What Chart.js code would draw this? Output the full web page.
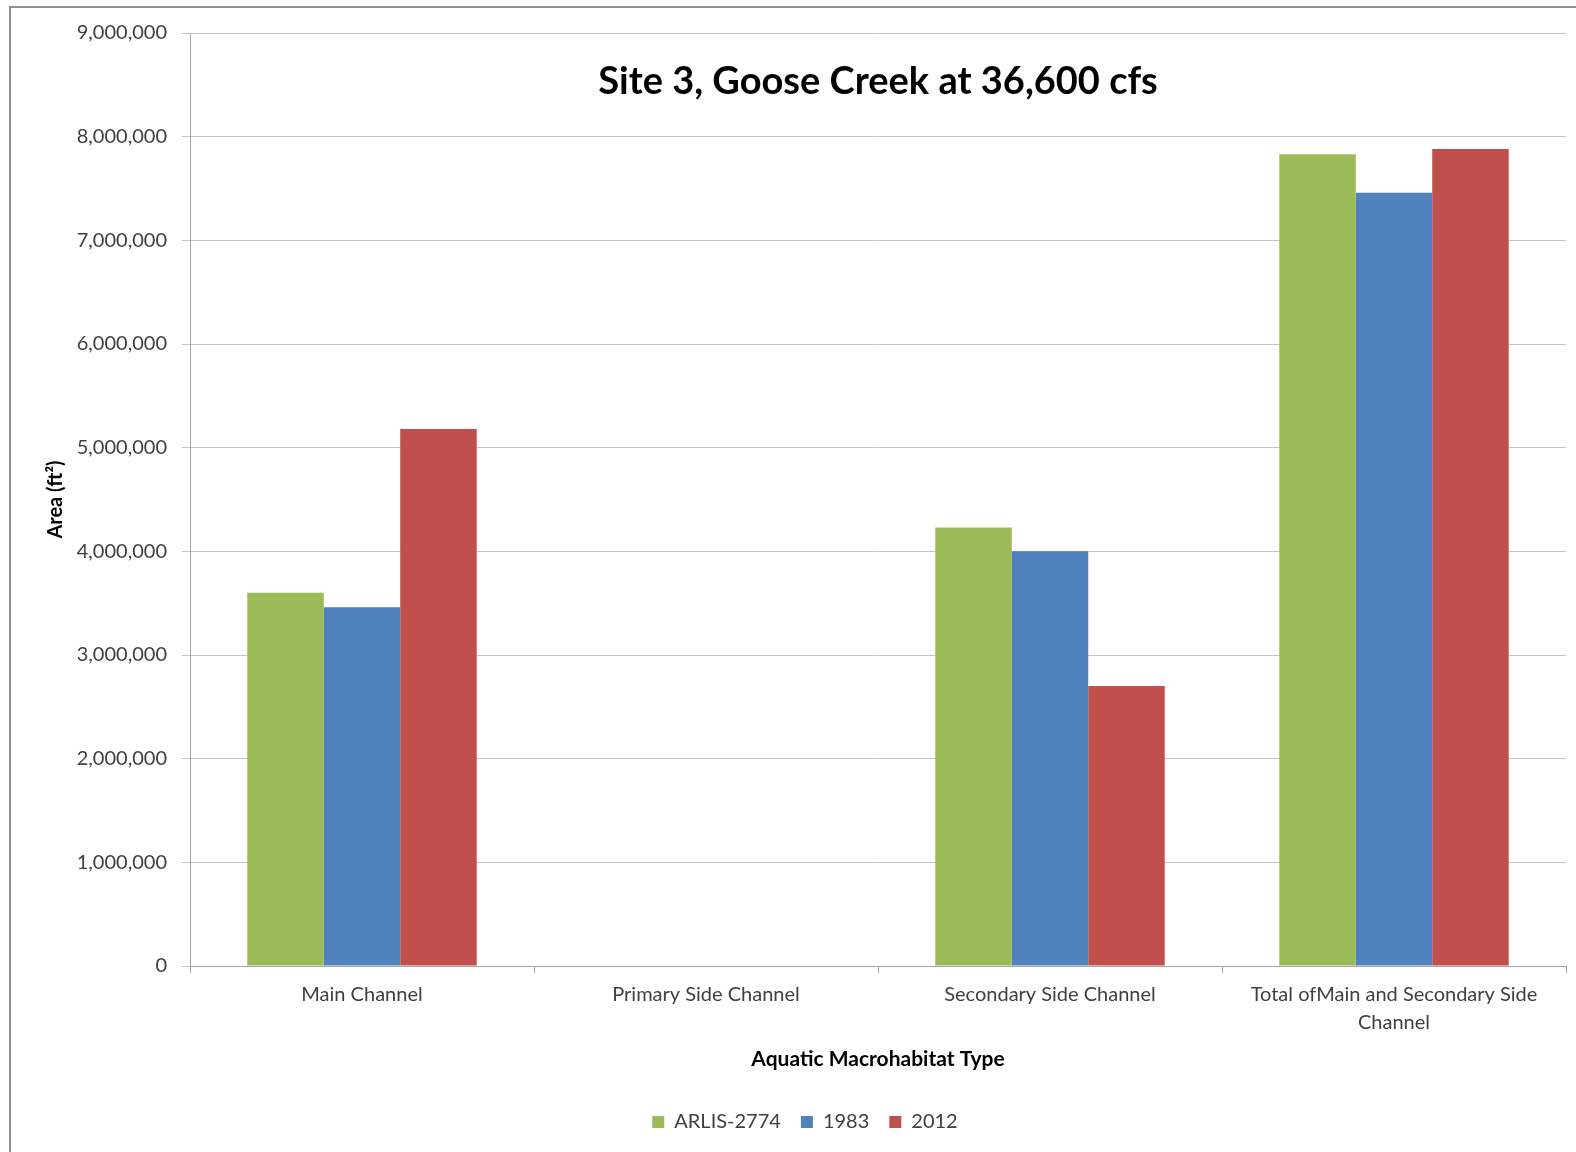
<!DOCTYPE html>
<html>
<head>
<meta charset="utf-8">
<script src="https://cdn.jsdelivr.net/npm/chart.js@4.4.1/dist/chart.umd.min.js"></script>
<style>
    html, body { margin: 0; padding: 0; background: #fff; }
    #wrap { position: relative; width: 1576px; height: 1152px; }
    #frame { position: absolute; left: 9px; top: 6px; width: 1600px; height: 1200px; border: 2px solid #8f8f8f; box-sizing: border-box; }
    canvas { position: absolute; left: 0; top: 0; }
</style>
</head>
<body>
<div id="wrap">
    <div id="frame"></div>
    <canvas id="chart" width="1576" height="1152"></canvas>
</div>
<script>
// data
const categories = [
    'Main Channel',
    'Primary Side Channel',
    'Secondary Side Channel',
    ['Total ofMain and Secondary Side', 'Channel']
];
const arlis2774 = [3600000, 0, 4230000, 7830000];
const year1983 = [3460000, 0, 4000000, 7460000];
const year2012 = [5180000, 0, 2700000, 7880000];

const chartTitle = 'Site 3, Goose Creek at 36,600 cfs';
const FONT = 'Lato, "Open Sans", sans-serif';

// title sits inside the plot area, like the original
const overlayTitle = {
    id: 'overlayTitle',
    afterDraw(chart) {
        const ctx = chart.ctx;
        const area = chart.chartArea;
        ctx.save();
        ctx.font = 'bold 38px ' + FONT;
        ctx.fillStyle = '#000';
        ctx.textAlign = 'center';
        ctx.textBaseline = 'middle';
        ctx.fillText(chartTitle, (area.left + area.right) / 2, area.top + 49);
        ctx.restore();
    }
};

const ctx = document.getElementById('chart').getContext('2d');
const chart = new Chart(ctx, {
    type: 'bar',
    data: {
        labels: categories,
        datasets: [
            { label: 'ARLIS-2774', data: arlis2774, backgroundColor: '#9BBB59' },
            { label: '1983', data: year1983, backgroundColor: '#4F81BD' },
            { label: '2012', data: year2012, backgroundColor: '#C0504D' }
        ]
    },
    options: {
        responsive: false,
        animation: false,
        layout: { padding: { left: 44, top: 33, right: 10, bottom: 10 } },
        datasets: {
            bar: { barPercentage: 1, categoryPercentage: 0.667 }
        },
        plugins: {
            legend: {
                position: 'bottom',
                labels: {
                    font: { family: FONT, size: 20 },
                    color: '#404040',
                    boxWidth: 12,
                    boxHeight: 12,
                    padding: 20
                }
            },
            tooltip: { enabled: false }
        },
        scales: {
            x: {
                afterFit(scale) { scale.height = 126; },
                grid: { drawOnChartArea: false, tickLength: 7, color: '#a6a6a6', offset: true },
                border: { color: '#a6a6a6' },
                ticks: {
                    font: { family: FONT, size: 20, lineHeight: 1.4 },
                    color: '#404040',
                    padding: 8,
                    maxRotation: 0
                },
                title: {
                    display: true,
                    text: 'Aquatic Macrohabitat Type',
                    font: { family: FONT, size: 21, weight: 'bold' },
                    color: '#000',
                    padding: { top: 10, bottom: 20 }
                }
            },
            y: {
                min: 0,
                max: 9000000,
                afterFit(scale) { scale.width = 146; },
                grid: { color: '#c4c4c4', tickLength: 8 },
                border: { color: '#a6a6a6' },
                ticks: {
                    stepSize: 1000000,
                    font: { family: FONT, size: 20 },
                    color: '#404040',
                    padding: 15,
                    callback: v => v.toLocaleString('en-US')
                },
                title: {
                    display: true,
                    text: 'Area (ft²)',
                    font: { family: FONT, size: 20, weight: 'bold' },
                    color: '#000',
                    padding: 0
                }
            }
        }
    },
    plugins: [overlayTitle]
});
</script>
</body>
</html>
